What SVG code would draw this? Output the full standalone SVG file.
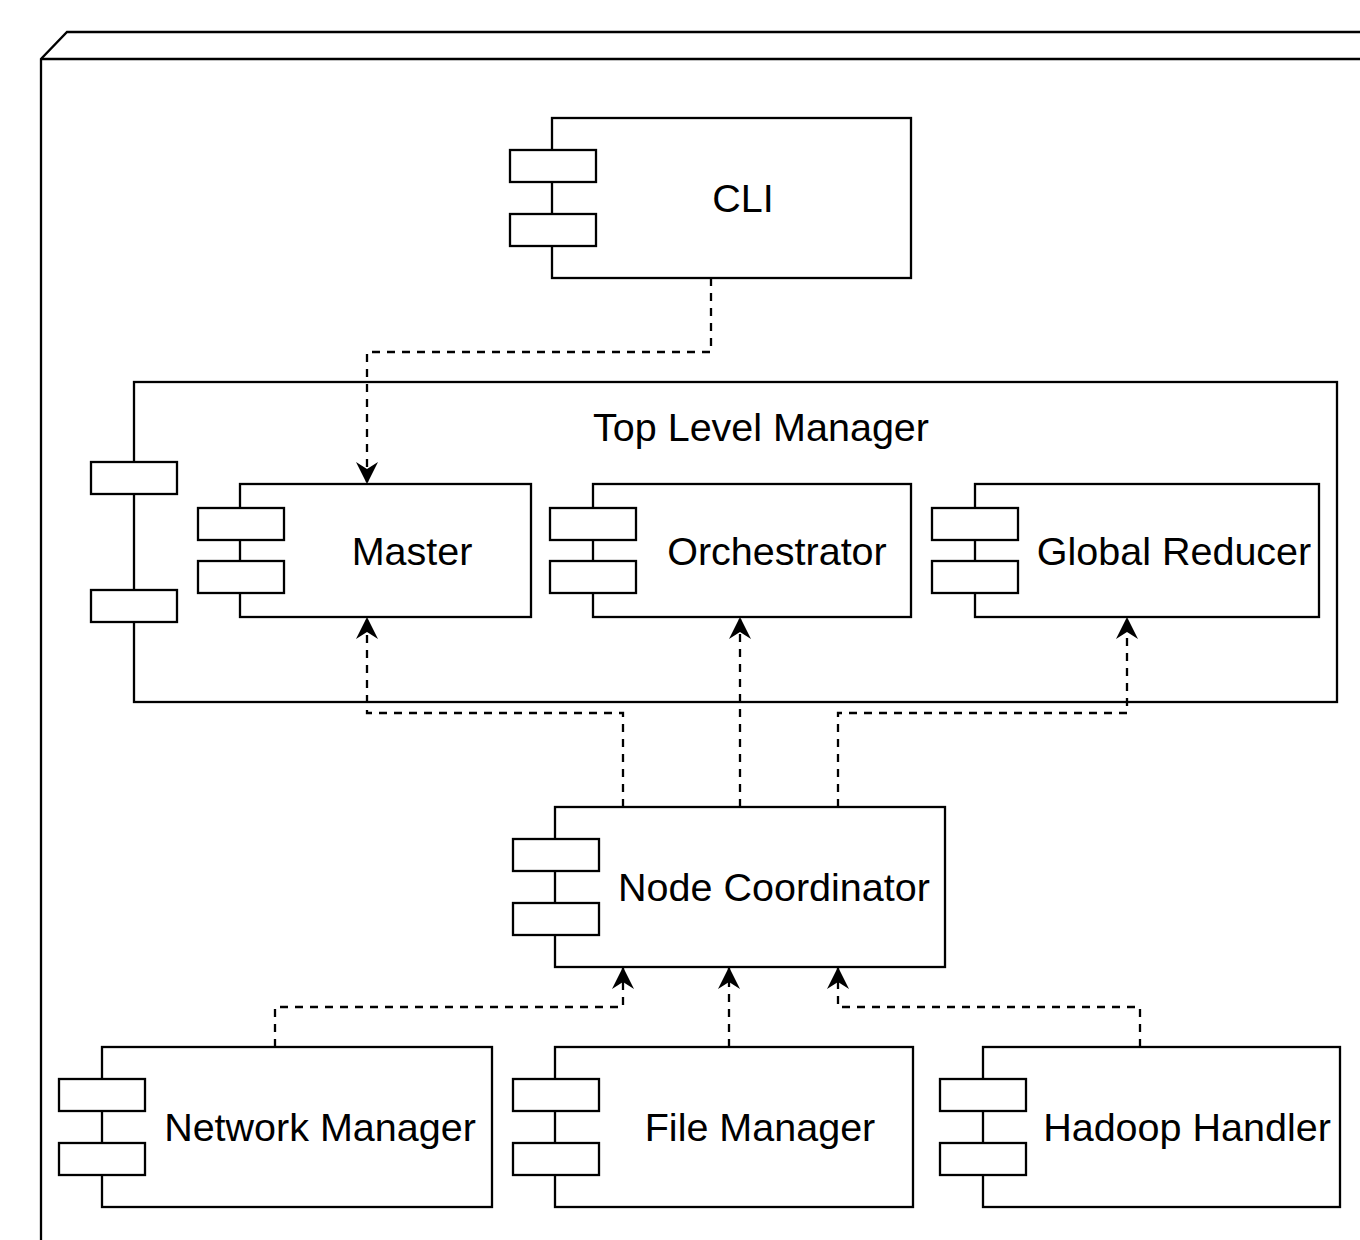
<svg xmlns="http://www.w3.org/2000/svg" width="1360" height="1240" viewBox="0 0 1360 1240">
<style>
.b{fill:#fff;stroke:#000;stroke-width:2.3}
.t{font-family:"Liberation Sans",Arial,sans-serif;font-size:39.5px;fill:#000;text-anchor:middle}
.c{fill:none;stroke:#000;stroke-width:2.3;stroke-dasharray:8 7}
</style>
<defs>
<marker id="ah" markerUnits="userSpaceOnUse" markerWidth="26" markerHeight="26" viewBox="-24 -13 26 26" refX="0" refY="0" orient="auto">
<path d="M0,0 L-22,-11 L-15,0 L-22,11 Z" fill="#000"/>
</marker>
</defs>
<rect width="1360" height="1240" fill="#fff"/>
<g id="frame">
<path d="M41,1245 L41,59 L67,32 L1365,32" fill="#fff" stroke="#000" stroke-width="2.3"/>
<path d="M41,59 L1365,59" fill="none" stroke="#000" stroke-width="2.3"/>
</g>
<g id="cli">
<rect class="b" x="552" y="118" width="359" height="160"/>
<rect class="b" x="510" y="150" width="86" height="32"/>
<rect class="b" x="510" y="214" width="86" height="32"/>
<text class="t" x="743" y="212">CLI</text>
</g>
<g id="top-level-manager">
<rect class="b" x="134" y="382" width="1203" height="320"/>
<rect class="b" x="91" y="462" width="86" height="32"/>
<rect class="b" x="91" y="590" width="86" height="32"/>
<text class="t" x="761" y="441">Top Level Manager</text>
</g>
<g id="master">
<rect class="b" x="240" y="484" width="291" height="133"/>
<rect class="b" x="198" y="508" width="86" height="32"/>
<rect class="b" x="198" y="561" width="86" height="32"/>
<text class="t" x="412" y="565">Master</text>
</g>
<g id="orchestrator">
<rect class="b" x="593" y="484" width="318" height="133"/>
<rect class="b" x="550" y="508" width="86" height="32"/>
<rect class="b" x="550" y="561" width="86" height="32"/>
<text class="t" x="777" y="565">Orchestrator</text>
</g>
<g id="global-reducer">
<rect class="b" x="975" y="484" width="344" height="133"/>
<rect class="b" x="932" y="508" width="86" height="32"/>
<rect class="b" x="932" y="561" width="86" height="32"/>
<text class="t" x="1174" y="565">Global Reducer</text>
</g>
<g id="node-coordinator">
<rect class="b" x="555" y="807" width="390" height="160"/>
<rect class="b" x="513" y="839" width="86" height="32"/>
<rect class="b" x="513" y="903" width="86" height="32"/>
<text class="t" x="774" y="901">Node Coordinator</text>
</g>
<g id="network-manager">
<rect class="b" x="102" y="1047" width="390" height="160"/>
<rect class="b" x="59" y="1079" width="86" height="32"/>
<rect class="b" x="59" y="1143" width="86" height="32"/>
<text class="t" x="320" y="1141">Network Manager</text>
</g>
<g id="file-manager">
<rect class="b" x="555" y="1047" width="358" height="160"/>
<rect class="b" x="513" y="1079" width="86" height="32"/>
<rect class="b" x="513" y="1143" width="86" height="32"/>
<text class="t" x="760" y="1141">File Manager</text>
</g>
<g id="hadoop-handler">
<rect class="b" x="983" y="1047" width="357" height="160"/>
<rect class="b" x="940" y="1079" width="86" height="32"/>
<rect class="b" x="940" y="1143" width="86" height="32"/>
<text class="t" x="1187" y="1141">Hadoop Handler</text>
</g>
<g id="connectors">
<path class="c" d="M711,278 L711,352 L367,352 L367,484" marker-end="url(#ah)"/>
<path class="c" d="M623,807 L623,713 L367,713 L367,617" marker-end="url(#ah)"/>
<path class="c" d="M740,807 L740,617" marker-end="url(#ah)"/>
<path class="c" d="M838,807 L838,713 L1127,713 L1127,617" marker-end="url(#ah)"/>
<path class="c" d="M275,1047 L275,1007 L623,1007 L623,967" marker-end="url(#ah)"/>
<path class="c" d="M729,1047 L729,967" marker-end="url(#ah)"/>
<path class="c" d="M1140,1047 L1140,1007 L838,1007 L838,967" marker-end="url(#ah)"/>
</g>
</svg>
